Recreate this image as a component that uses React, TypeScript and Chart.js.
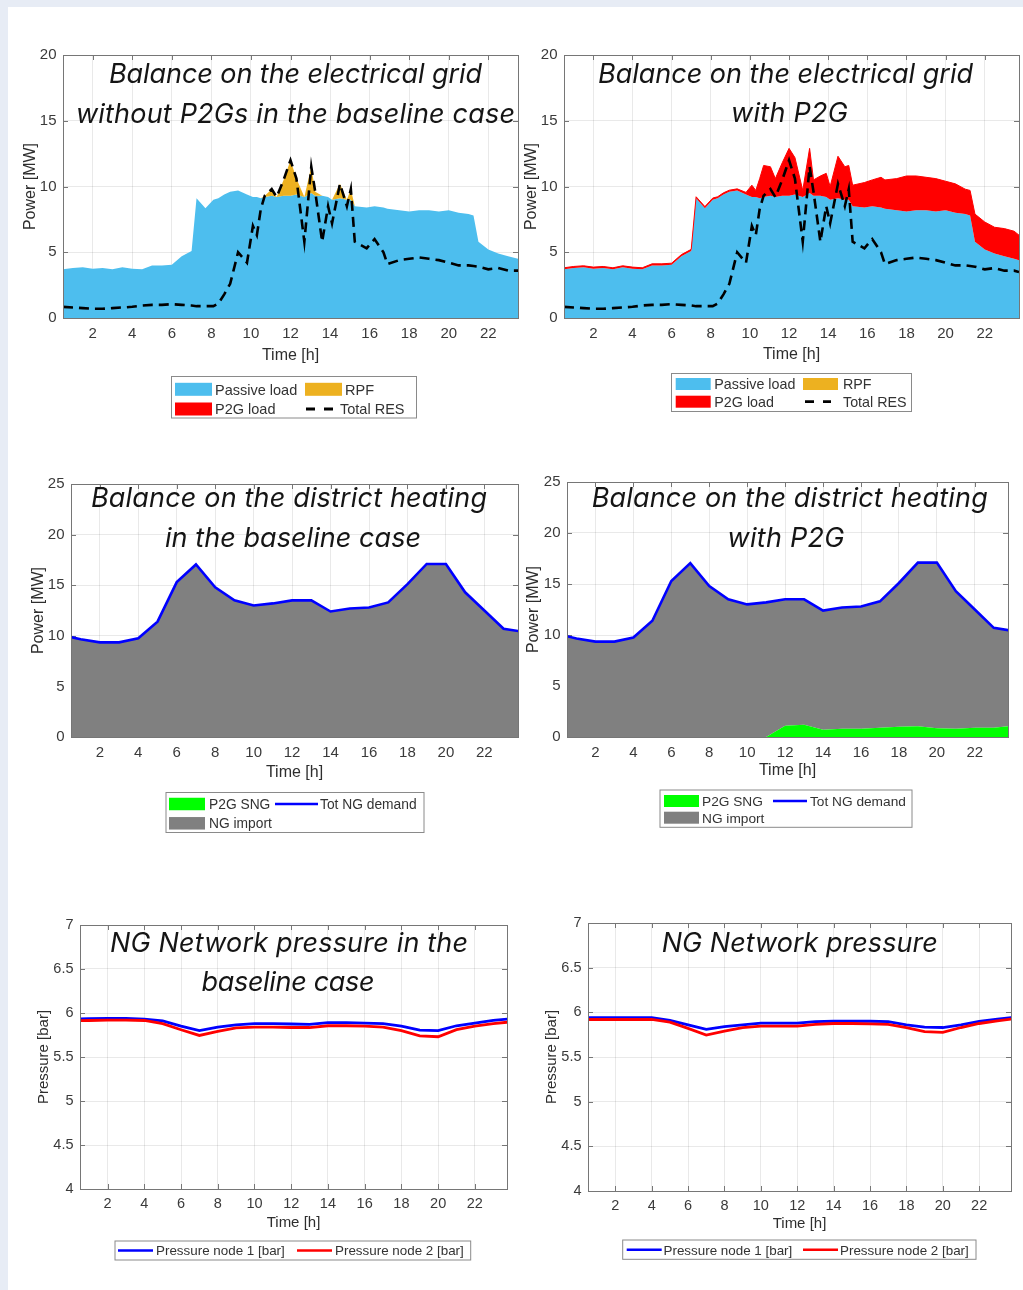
import React, { useEffect, useRef } from "react";
import { Chart, registerables } from "chart.js";

Chart.register(...registerables);

// ---------------- data ----------------
const X_TICKS = [2, 4, 6, 8, 10, 12, 14, 16, 18, 20, 22];
const Y_TICKS_ELEC = [0, 5, 10, 15, 20];
const Y_TICKS_HEAT = [0, 5, 10, 15, 20, 25];
const Y_TICKS_PRES = [4, 4.5, 5, 5.5, 6, 6.5, 7];

// electrical grid (hours)
const HOURS_E = [
  0.5, 1, 1.5, 2, 2.5, 3, 3.5, 4, 4.5, 5,
  5.5, 6, 6.5, 7, 7.25, 7.7, 8.1, 8.35, 8.65, 8.95,
  9.35, 9.8, 10.1, 10.3, 10.5, 10.7, 11.05, 11.3, 11.65, 12,
  12.3, 12.7, 13.05, 13.25, 13.6, 13.9, 14.1, 14.5, 14.85, 15.05,
  15.25, 15.85, 16.25, 16.7, 16.9, 17.5, 18, 18.5, 19, 19.5,
  20, 20.5, 21, 21.25, 21.5, 22, 22.5, 23, 23.5, 23.75,
];
const PASSIVE_LOAD = [
  3.7, 3.8, 3.85, 3.75, 3.8, 3.7, 3.85, 3.75, 3.7, 4.0,
  4.0, 4.05, 4.7, 5.1, 9.1, 8.35, 9.0, 9.1, 9.4, 9.6,
  9.7, 9.4, 9.2, 9.2, 9.1, 9.2, 9.3, 9.2, 9.3, 9.3,
  9.4, 9.2, 9.5, 9.3, 9.3, 9.2, 9.0, 9.1, 9.0, 9.0,
  8.5, 8.4, 8.5, 8.4, 8.3, 8.2, 8.1, 8.2, 8.2, 8.1,
  8.2, 8.0, 7.9, 7.8, 5.8, 5.2, 4.9, 4.7, 4.5, 4.4,
];
const TOTAL_RES = [
  0.85, 0.8, 0.75, 0.7, 0.7, 0.75, 0.8, 0.85, 0.95, 1.0,
  1.0, 1.05, 1.0, 0.95, 0.9, 0.9, 0.9, 1.1, 1.8, 2.6,
  5.0, 4.2, 7.0, 6.3, 8.3, 9.3, 9.8, 9.2, 10.5, 12.0,
  10.6, 5.8, 11.5, 9.6, 5.8, 8.5, 7.2, 10.2, 8.5, 9.8,
  5.8, 5.3, 6.0, 5.0, 4.1, 4.4, 4.5, 4.6, 4.5, 4.4,
  4.2, 4.0, 4.0, 3.95, 3.9, 3.7, 3.8, 3.6, 3.6, 3.5,
];
const RPF_BASE = [
  0, 0, 0, 0, 0, 0, 0, 0, 0, 0,
  0, 0, 0, 0, 0, 0, 0, 0, 0, 0,
  0, 0, 0, 0, 0, 0.1, 0.5, 0, 1.2, 2.7,
  1.2, 0, 2.0, 0.3, 0, 0, 0, 1.1, 0, 0.8,
  0, 0, 0, 0, 0, 0, 0, 0, 0, 0,
  0, 0, 0, 0, 0, 0, 0, 0, 0, 0,
];
const P2G_LOAD = [
  0.12, 0.12, 0.12, 0.12, 0.12, 0.12, 0.12, 0.12, 0.12, 0.12,
  0.12, 0.12, 0.12, 0.12, 0.12, 0.12, 0.12, 0.12, 0.12, 0.12,
  0.12, 0.15, 0.9, 0.5, 1.5, 2.4, 2.2, 1.4, 2.5, 3.6,
  2.8, 0.5, 3.4, 1.2, 1.5, 1.8, 1.0, 3.2, 2.5, 2.6,
  1.6, 1.9, 2.0, 2.3, 2.2, 2.4, 2.7, 2.6, 2.5, 2.5,
  2.2, 2.2, 1.9, 1.9, 2.1, 2.1, 2.0, 2.1, 2.1, 1.9,
];

// district heating (hourly)
const HOURS_H = [0, 1, 2, 3, 4, 5, 6, 7, 8, 9, 10, 11, 12, 13, 14, 15, 16, 17, 18, 19, 20, 21, 22, 23, 24];
const TOT_NG_DEMAND = [
  10.1, 9.65, 9.35, 9.35, 9.75, 11.4, 15.3, 17.05, 14.8, 13.5, 13.0, 13.2, 13.5,
  13.5, 12.4, 12.7, 12.8, 13.3, 15.1, 17.1, 17.1, 14.3, 12.5, 10.7, 10.4,
];
const P2G_SNG_BASE = [0, 0, 0, 0, 0, 0, 0, 0, 0, 0, 0, 0, 0, 0, 0, 0, 0, 0, 0, 0, 0, 0, 0, 0, 0];
const P2G_SNG = [
  0, 0, 0, 0, 0, 0, 0, 0, 0, 0, 0, 0, 1.1,
  1.2, 0.7, 0.8, 0.8, 0.9, 1.0, 1.05, 0.85, 0.8, 0.9, 0.9, 1.1,
];

// NG network pressure (hourly)
const PRESSURE_N1_BASE = [
  5.93, 5.935, 5.94, 5.94, 5.93, 5.91, 5.85, 5.8, 5.84, 5.865, 5.88, 5.88, 5.875,
  5.87, 5.89, 5.89, 5.885, 5.88, 5.85, 5.805, 5.8, 5.855, 5.885, 5.915, 5.935,
];
const PRESSURE_N2_BASE = [
  5.91, 5.915, 5.92, 5.92, 5.915, 5.88, 5.81, 5.745, 5.79, 5.83, 5.84, 5.84, 5.835,
  5.835, 5.855, 5.855, 5.85, 5.84, 5.8, 5.74, 5.73, 5.81, 5.85, 5.88, 5.9,
];
const PRESSURE_N1_P2G = [
  5.94, 5.94, 5.94, 5.94, 5.94, 5.91, 5.86, 5.81, 5.84, 5.86, 5.88, 5.88, 5.88,
  5.895, 5.9, 5.9, 5.9, 5.895, 5.86, 5.835, 5.83, 5.86, 5.9, 5.925, 5.945,
];
const PRESSURE_N2_P2G = [
  5.92, 5.92, 5.92, 5.92, 5.92, 5.89, 5.82, 5.745, 5.79, 5.83, 5.845, 5.845, 5.845,
  5.865, 5.875, 5.875, 5.87, 5.865, 5.83, 5.785, 5.775, 5.83, 5.875, 5.905, 5.93,
];

// ---------------- styles ----------------
const C_PASSIVE = "#4DBEEE";
const C_RPF = "#EDB120";
const C_P2G = "#FF0000";
const C_GRAY = "#808080";
const C_GREEN = "#00FF00";
const C_BLUE = "#0000FF";
const C_RED = "#FF0000";
const AXIS = "#767676";
const TEXT = "#3a3a3a";
const SANS = '"Liberation Sans", Arial, Helvetica, sans-serif';
const TITLE_FONT = "Inter, Roboto, sans-serif";

const pts = (xs: number[], ys: number[]) => xs.map((x, i) => ({ x, y: ys[i] }));
const addArr = (a: number[], b: number[]) => a.map((v, i) => v + b[i]);
const subArr = (a: number[], b: number[]) => a.map((v, i) => v - b[i]);

function elecDatasets(withP2G: boolean) {
  const ds: any[] = [
    {
      label: "Passive load",
      data: pts(HOURS_E, PASSIVE_LOAD),
      fill: "origin",
      backgroundColor: C_PASSIVE,
      borderWidth: 0,
      order: 3,
    },
  ];
  if (withP2G) {
    ds.push({
      label: "P2G load",
      data: pts(HOURS_E, addArr(PASSIVE_LOAD, P2G_LOAD)),
      fill: "-1",
      backgroundColor: C_P2G,
      borderColor: C_P2G,
      borderWidth: 1,
      order: 2,
    });
  } else {
    ds.push({
      label: "RPF",
      data: pts(HOURS_E, addArr(PASSIVE_LOAD, RPF_BASE)),
      fill: "-1",
      backgroundColor: C_RPF,
      borderWidth: 0,
      order: 2,
    });
  }
  ds.push({
    label: "Total RES",
    data: pts(HOURS_E, TOTAL_RES),
    fill: false,
    borderColor: "#000",
    borderWidth: 2.6,
    borderDash: [10, 6],
    order: 0,
  });
  return ds;
}

function heatDatasets(sng: number[]) {
  const ngImport = subArr(TOT_NG_DEMAND, sng);
  return [
    {
      label: "P2G SNG",
      data: pts(HOURS_H, sng),
      fill: "origin",
      backgroundColor: C_GREEN,
      borderWidth: 0,
      order: 2,
    },
    {
      label: "NG import",
      data: pts(HOURS_H, addArr(sng, ngImport)),
      fill: "-1",
      backgroundColor: C_GRAY,
      borderWidth: 0,
      order: 3,
    },
    {
      label: "Tot NG demand",
      data: pts(HOURS_H, TOT_NG_DEMAND),
      fill: false,
      borderColor: C_BLUE,
      borderWidth: 2.6,
      order: 0,
    },
  ];
}

function presDatasets(n1: number[], n2: number[]) {
  return [
    { label: "Pressure node 1 [bar]", data: pts(HOURS_H, n1), fill: false, borderColor: C_BLUE, borderWidth: 2.8, order: 1 },
    { label: "Pressure node 2 [bar]", data: pts(HOURS_H, n2), fill: false, borderColor: C_RED, borderWidth: 2.8, order: 0 },
  ];
}

type Panel = {
  L: number; T: number; R: number; B: number;
  xMax: number; yMin: number; yMax: number; yTicks: number[];
  yTitle: string; yTitleX: number; xTitleY: number; xTickY: number;
  tickSize: number; titleSize: number;
  datasets: any[];
};

const PANELS: Panel[] = [
  { L: 63, T: 55, R: 518, B: 318, xMax: 23.5, yMin: 0, yMax: 20, yTicks: Y_TICKS_ELEC, yTitle: "Power [MW]", yTitleX: 31, xTitleY: 356, xTickY: 334, tickSize: 15, titleSize: 16, datasets: elecDatasets(false) },
  { L: 564, T: 55, R: 1019, B: 318, xMax: 23.75, yMin: 0, yMax: 20, yTicks: Y_TICKS_ELEC, yTitle: "Power [MW]", yTitleX: 532, xTitleY: 355, xTickY: 333.5, tickSize: 15, titleSize: 16, datasets: elecDatasets(true) },
  { L: 71, T: 484, R: 518, B: 737, xMax: 23.75, yMin: 0, yMax: 25, yTicks: Y_TICKS_HEAT, yTitle: "Power [MW]", yTitleX: 39, xTitleY: 773, xTickY: 753, tickSize: 15, titleSize: 16, datasets: heatDatasets(P2G_SNG_BASE) },
  { L: 567, T: 482, R: 1008, B: 737, xMax: 23.75, yMin: 0, yMax: 25, yTicks: Y_TICKS_HEAT, yTitle: "Power [MW]", yTitleX: 534, xTitleY: 771, xTickY: 752.5, tickSize: 15, titleSize: 16, datasets: heatDatasets(P2G_SNG) },
  { L: 80, T: 925, R: 507, B: 1189, xMax: 23.75, yMin: 4, yMax: 7, yTicks: Y_TICKS_PRES, yTitle: "Pressure [bar]", yTitleX: 43.5, xTitleY: 1222.5, xTickY: 1204, tickSize: 14.5, titleSize: 15, datasets: presDatasets(PRESSURE_N1_BASE, PRESSURE_N2_BASE) },
  { L: 588, T: 923, R: 1011, B: 1191, xMax: 23.75, yMin: 4, yMax: 7, yTicks: Y_TICKS_PRES, yTitle: "Pressure [bar]", yTitleX: 552, xTitleY: 1224, xTickY: 1206, tickSize: 14.5, titleSize: 15, datasets: presDatasets(PRESSURE_N1_P2G, PRESSURE_N2_P2G) },
];

const TITLES = [
  { x: 295.5, y: 82.7, w: 373, text: "Balance on the electrical grid" },
  { x: 295.5, y: 122.7, w: 439, text: "without P2Gs in the baseline case" },
  { x: 785.5, y: 82.7, w: 375, text: "Balance on the electrical grid" },
  { x: 789.5, y: 121.7, w: 117, text: "with P2G" },
  { x: 289, y: 507.3, w: 396, text: "Balance on the district heating" },
  { x: 293, y: 547.3, w: 256, text: "in the baseline case" },
  { x: 789.7, y: 507.3, w: 396, text: "Balance on the district heating" },
  { x: 786, y: 546.7, w: 117, text: "with P2G" },
  { x: 289, y: 951.7, w: 358, text: "NG Network pressure in the" },
  { x: 288, y: 991, w: 173, text: "baseline case" },
  { x: 799.7, y: 951.7, w: 276, text: "NG Network pressure" },
];

type LegItem = { kind: "patch" | "line" | "dash"; color: string; x: number; w: number; cy: number; h?: number; label: string; tx: number };
const LEGENDS: { box: number[]; size: number; items: LegItem[] }[] = [
  {
    box: [171.5, 376.5, 245, 41.5], size: 14.5, items: [
      { kind: "patch", color: C_PASSIVE, x: 175, w: 37, cy: 389.3, h: 13, label: "Passive load", tx: 215 },
      { kind: "patch", color: C_RPF, x: 305, w: 37, cy: 389.3, h: 13, label: "RPF", tx: 345 },
      { kind: "patch", color: C_P2G, x: 175, w: 37, cy: 409, h: 13, label: "P2G load", tx: 215 },
      { kind: "dash", color: "#000", x: 306, w: 27, cy: 409, label: "Total RES", tx: 340 },
    ],
  },
  {
    box: [671.5, 373.5, 240, 38], size: 14.3, items: [
      { kind: "patch", color: C_PASSIVE, x: 675.7, w: 35, cy: 384, h: 12, label: "Passive load", tx: 714.3 },
      { kind: "patch", color: C_RPF, x: 803, w: 35, cy: 384, h: 12, label: "RPF", tx: 843 },
      { kind: "patch", color: C_P2G, x: 675.7, w: 35, cy: 401.7, h: 12, label: "P2G load", tx: 714.3 },
      { kind: "dash", color: "#000", x: 805, w: 26, cy: 401.7, label: "Total RES", tx: 843 },
    ],
  },
  {
    box: [166, 792.5, 258, 40], size: 13.8, items: [
      { kind: "patch", color: C_GREEN, x: 169, w: 36, cy: 804, h: 12.5, label: "P2G SNG", tx: 209 },
      { kind: "line", color: C_BLUE, x: 275, w: 43, cy: 804, label: "Tot NG demand", tx: 320 },
      { kind: "patch", color: C_GRAY, x: 169, w: 36, cy: 823.3, h: 12.5, label: "NG import", tx: 209 },
    ],
  },
  {
    box: [660, 790, 252, 37.3], size: 13.7, items: [
      { kind: "patch", color: C_GREEN, x: 664, w: 35, cy: 801, h: 12, label: "P2G SNG", tx: 702 },
      { kind: "line", color: C_BLUE, x: 773, w: 34, cy: 801, label: "Tot NG demand", tx: 810 },
      { kind: "patch", color: C_GRAY, x: 664, w: 35, cy: 817.7, h: 12, label: "NG import", tx: 702 },
    ],
  },
  {
    box: [115, 1241, 355.7, 19], size: 13.4, items: [
      { kind: "line", color: C_BLUE, x: 118, w: 35, cy: 1250.5, label: "Pressure node 1 [bar]", tx: 156 },
      { kind: "line", color: C_RED, x: 297, w: 35, cy: 1250.5, label: "Pressure node 2 [bar]", tx: 335 },
    ],
  },
  {
    box: [622.7, 1240, 353.3, 19.3], size: 13.4, items: [
      { kind: "line", color: C_BLUE, x: 626.7, w: 35, cy: 1249.7, label: "Pressure node 1 [bar]", tx: 663.5 },
      { kind: "line", color: C_RED, x: 803, w: 35, cy: 1249.7, label: "Pressure node 2 [bar]", tx: 840 },
    ],
  },
];

// ---------------- chart plumbing ----------------
const PAD_LEFT_AXIS = 60;
const PAD_TOP = 20;
const PAD_RIGHT = 5;
const X_AXIS_H = 50;

const boxPlugin = {
  id: "matlabBox",
  beforeDatasetsDraw(chart: any) {
    const { ctx, chartArea: a, scales } = chart;
    ctx.save();
    ctx.strokeStyle = AXIS;
    ctx.lineWidth = 1;
    ctx.beginPath();
    for (const t of scales.x.ticks) {
      const px = Math.round(scales.x.getPixelForValue(t.value)) + 0.5;
      ctx.moveTo(px, a.bottom);
      ctx.lineTo(px, a.bottom - 5);
      ctx.moveTo(px, a.top);
      ctx.lineTo(px, a.top + 5);
    }
    for (const t of scales.y.ticks) {
      const py = Math.round(scales.y.getPixelForValue(t.value)) + 0.5;
      ctx.moveTo(a.left, py);
      ctx.lineTo(a.left + 5, py);
      ctx.moveTo(a.right, py);
      ctx.lineTo(a.right - 5, py);
    }
    ctx.stroke();
    ctx.restore();
  },
  afterDatasetsDraw(chart: any) {
    const { ctx, chartArea: a } = chart;
    ctx.save();
    ctx.strokeStyle = AXIS;
    ctx.lineWidth = 1;
    ctx.strokeRect(Math.round(a.left) + 0.5, Math.round(a.top) + 0.5, Math.round(a.right - a.left), Math.round(a.bottom - a.top));
    ctx.restore();
  },
};

function makeConfig(p: Panel): any {
  const canvasLeft = p.L - PAD_LEFT_AXIS;
  const lhTitle = p.titleSize * 1.2;
  const yPadTop = p.yTitleX - canvasLeft - lhTitle / 2;
  const xPadBottom = p.B + X_AXIS_H - p.xTitleY - lhTitle / 2;
  const xTickPad = p.xTickY - p.B - (p.tickSize * 1.2) / 2;
  const tickFont = { family: SANS, size: p.tickSize };
  const titleFont = { family: SANS, size: p.titleSize };
  const grid = { color: "rgba(0,0,0,0.085)", drawTicks: false, lineWidth: 1 };
  return {
    type: "line",
    data: { datasets: p.datasets.map((d) => ({ ...d, pointRadius: 0, tension: 0, clip: 0 })) },
    options: {
      responsive: false,
      animation: false,
      devicePixelRatio: 1,
      events: [],
      layout: { padding: { top: PAD_TOP, right: PAD_RIGHT, left: 0, bottom: 0 } },
      plugins: { legend: { display: false }, tooltip: { enabled: false }, title: { display: false } },
      scales: {
        x: {
          type: "linear",
          min: 0.5,
          max: p.xMax,
          afterFit: (s: any) => { s.height = X_AXIS_H; },
          afterBuildTicks: (s: any) => { s.ticks = X_TICKS.map((v) => ({ value: v })); },
          grid,
          border: { display: false },
          ticks: { font: tickFont, color: TEXT, padding: xTickPad, maxRotation: 0, autoSkip: false, callback: (v: any) => String(v) },
          title: { display: true, text: "Time [h]", font: titleFont, color: "#2e2e2e", padding: { top: 0, bottom: xPadBottom } },
        },
        y: {
          type: "linear",
          min: p.yMin,
          max: p.yMax,
          afterFit: (s: any) => { s.width = PAD_LEFT_AXIS; },
          afterBuildTicks: (s: any) => { s.ticks = p.yTicks.map((v) => ({ value: v })); },
          grid,
          border: { display: false },
          ticks: { font: tickFont, color: TEXT, padding: 6.5, autoSkip: false, callback: (v: any) => String(v) },
          title: { display: true, text: p.yTitle, font: titleFont, color: "#2e2e2e", padding: { top: yPadTop, bottom: 0 } },
        },
      },
    },
    plugins: [boxPlugin],
  };
}

function PanelChart({ p }: { p: Panel }) {
  const ref = useRef<HTMLCanvasElement | null>(null);
  const left = p.L - PAD_LEFT_AXIS;
  const top = p.T - PAD_TOP;
  const w = p.R - p.L + PAD_LEFT_AXIS + PAD_RIGHT;
  const h = p.B - p.T + PAD_TOP + X_AXIS_H;
  useEffect(() => {
    if (!ref.current) return;
    const chart = new Chart(ref.current, makeConfig(p));
    return () => chart.destroy();
  }, [p]);
  return (
    <canvas
      ref={ref}
      width={w}
      height={h}
      style={{ position: "absolute", left, top, width: w, height: h }}
    />
  );
}

function Legend({ lg }: { lg: (typeof LEGENDS)[number] }) {
  const [bx, by, bw, bh] = lg.box;
  return (
    <g>
      <rect x={bx} y={by} width={bw} height={bh} fill="#fff" stroke="#8a8a8a" strokeWidth={1} />
      {lg.items.map((it, i) => (
        <g key={i}>
          {it.kind === "patch" && (
            <rect x={it.x} y={it.cy - (it.h || 12) / 2} width={it.w} height={it.h || 12} fill={it.color} />
          )}
          {it.kind === "line" && (
            <line x1={it.x} x2={it.x + it.w} y1={it.cy} y2={it.cy} stroke={it.color} strokeWidth={2.6} />
          )}
          {it.kind === "dash" && (
            <line x1={it.x} x2={it.x + it.w} y1={it.cy} y2={it.cy} stroke={it.color} strokeWidth={2.8} strokeDasharray="9 9" />
          )}
          <text x={it.tx} y={it.cy + lg.size * 0.36} fontFamily={SANS} fontSize={lg.size} fill="#333">
            {it.label}
          </text>
        </g>
      ))}
    </g>
  );
}

export default function App() {
  return (
    <div style={{ position: "fixed", left: 0, top: 0, width: 1023, height: 1290, background: "#e7ecf5", overflow: "hidden" }}>
      <div style={{ position: "absolute", left: 8, top: 7, width: 1015, height: 1283, background: "#ffffff" }} />
      {PANELS.map((p, i) => (
        <PanelChart key={i} p={p} />
      ))}
      <svg width={1023} height={1290} style={{ position: "absolute", left: 0, top: 0, pointerEvents: "none" }}>
        {TITLES.map((t, i) => (
          <text
            key={i}
            x={t.x}
            y={t.y}
            textAnchor="middle"
            textLength={t.w}
            lengthAdjust="spacing"
            fontFamily={TITLE_FONT}
            fontStyle="italic"
            fontSize={27}
            fill="#151515"
          >
            {t.text}
          </text>
        ))}
        {LEGENDS.map((lg, i) => (
          <Legend key={i} lg={lg} />
        ))}
      </svg>
    </div>
  );
}
